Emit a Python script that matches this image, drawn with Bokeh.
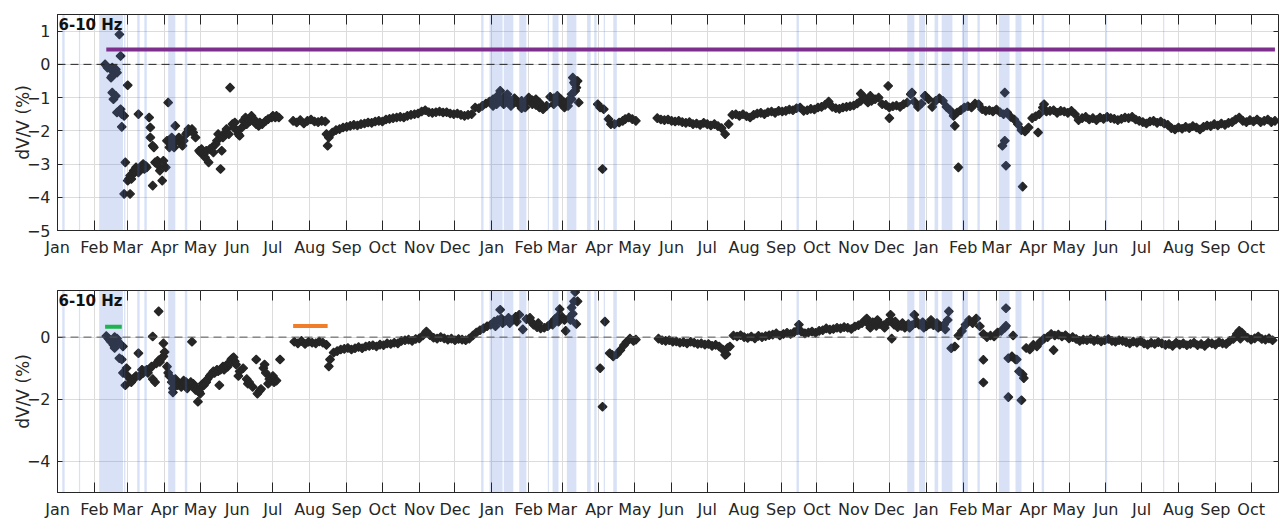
import numpy as np
import pandas as pd
from bokeh.plotting import figure
from bokeh.models import (Range1d, MonthsTicker, DatetimeTickFormatter, DatetimeAxis,
                          LinearAxis, FixedTicker, Span, Label, CustomJSTickFormatter)
from bokeh.layouts import column
from bokeh.embed import file_html
from bokeh.resources import INLINE

# ---------------- data (days counted from START) ----------------
START = "2017-01-01"
END = "2019-10-24"
STEP = 3  # regular sampling step (days) of the band segments

# shaded periods (day offsets)
band_start = [4, 18, 35, 38, 56, 67, 73, 93, 107, 356, 363, 375, 388, 412, 416, 428, 445, 451,
              459, 467, 621, 714, 724, 737, 743, 760, 773, 791, 805, 827, 881, 929]
band_end = [6, 19, 38, 55, 57, 69, 75, 99, 109, 358, 374, 383, 394, 413, 421, 436, 448, 453,
            460, 470, 623, 720, 729, 740, 752, 765, 775, 800, 810, 829, 882, 930]

# ---- top panel ----
top_early_days = [40, 42, 45, 46, 47, 49, 50, 45, 46, 46, 47, 49, 50, 52, 53, 52, 53, 54, 56, 54,
                  59, 57, 56, 61, 59, 60, 61, 63, 64, 66, 67, 68, 68, 70, 71, 72, 74, 75, 77, 78,
                  78, 80, 81, 80, 82, 84, 85, 86, 88, 89, 91, 92, 93, 94, 95, 96, 98, 99, 100, 102,
                  103, 105, 106, 108, 109, 110, 112, 113, 114, 116, 119, 120, 121, 123, 124, 125,
                  127, 128, 130, 131, 133, 134, 135, 137, 138, 139, 141, 142, 144, 145, 147, 148,
                  149, 151, 152, 153, 155, 156, 158, 159, 161, 162, 163, 165, 166, 167, 169, 170,
                  172, 175, 177, 180, 181, 183, 184, 186, 62, 65, 69, 73]
top_early_dv = [0.00, -0.10, -0.15, -0.10, -0.20, -0.15, -0.25, -0.40, -0.35, -0.85, -1.05, -0.95,
                -1.45, -1.40, -1.35, 0.90, 0.25, -1.50, -1.55, -1.88, -0.63, -2.95, -3.90, -3.90,
                -3.50, -3.45, -3.35, -3.30, -3.20, -3.10, -3.15, -1.50, -3.25, -3.10, -3.05, -3.00,
                -3.05, -3.10, -1.60, -1.90, -2.20, -2.45, -2.50, -3.65, -2.95, -2.90, -3.05, -3.20,
                -3.50, -2.90, -3.10, -2.30, -1.15, -2.50, -2.40, -2.20, -2.50, -1.85, -2.30, -2.20,
                -2.35, -2.45, -2.30, -2.10, -2.05, -1.95, -2.00, -1.95, -2.05, -2.20, -2.60, -2.65,
                -2.55, -2.70, -2.80, -2.60, -2.95, -2.55, -2.50, -2.65, -2.40, -2.30, -2.10, -3.15,
                -2.60, -2.20, -2.05, -1.95, -2.10, -0.70, -1.80, -1.90, -1.75, -2.00, -2.10, -2.15,
                -1.90, -1.70, -1.60, -1.80, -1.65, -1.70, -1.55, -1.65, -1.75, -1.80, -1.85, -1.75,
                -1.80, -1.70, -1.65, -1.60, -1.55, -1.60, -1.55, -1.60, -3.45, -3.25, -3.15, -3.15]

top_seg_a_start = 198
top_seg_a = [-1.70, -1.75, -1.68, -1.78, -1.70, -1.66, -1.72, -1.74, -1.70, -1.72,
             -2.20, -2.05, -1.98, -1.95, -1.90, -1.88, -1.85, -1.82, -1.84, -1.80,
             -1.78, -1.75, -1.76, -1.72, -1.70, -1.72, -1.66, -1.64, -1.62, -1.60,
             -1.58, -1.60, -1.55, -1.52, -1.50, -1.48, -1.42, -1.38, -1.44, -1.46,
             -1.44, -1.42, -1.45, -1.44, -1.48, -1.50, -1.48, -1.52, -1.55, -1.52,
             -1.50, -1.30, -1.32, -1.25, -1.18, -1.12, -1.05, -0.98, -0.80, -1.00,
             -1.05, -1.10, -1.02, -1.18, -1.32, -1.15, -1.00, -1.08, -1.22, -1.30,
             -1.28, -1.25, -0.98, -1.02, -1.06, -1.18, -1.30, -1.10, -0.90, -0.60,
             -1.15]

top_seg_b_start = 504
top_seg_b = [-1.62, -1.66, -1.68, -1.66, -1.70, -1.72, -1.70, -1.74, -1.76, -1.74,
             -1.80, -1.78, -1.82, -1.76, -1.80, -1.84, -1.80, -1.86, -1.92, -2.10,
             -1.80, -1.52, -1.50, -1.55, -1.50, -1.56, -1.60, -1.52, -1.48, -1.46,
             -1.50, -1.44, -1.42, -1.46, -1.40, -1.42, -1.40, -1.36, -1.38, -1.32,
             -1.30, -1.40, -1.38, -1.34, -1.36, -1.30, -1.28, -1.22, -1.12, -1.28,
             -1.32, -1.34, -1.30, -1.28, -1.26, -1.24, -1.18, -1.10, -1.00, -1.15,
             -1.10, -1.05, -1.00, -1.20, -1.22, -1.30, -1.26, -1.24, -1.28, -1.20,
             -1.15, -0.90, -1.12, -1.28, -1.18, -0.95, -1.05, -1.28, -1.10, -1.02,
             -1.10, -1.28, -1.38, -1.55, -1.45, -1.38, -1.30, -1.26, -1.30, -1.18,
             -1.20, -1.35, -1.40, -1.38, -1.42, -1.36, -1.44, -1.50, -1.45, -1.58,
             -1.66, -1.80, -1.98, -2.02, -1.90, -1.62, -1.56, -1.50, -1.30, -1.42,
             -1.40, -1.38, -1.46, -1.40, -1.42, -1.46, -1.40, -1.50, -1.68, -1.62,
             -1.58, -1.66, -1.62, -1.68, -1.60, -1.64, -1.58, -1.62, -1.64, -1.68,
             -1.64, -1.60, -1.62, -1.58, -1.66, -1.70, -1.74, -1.78, -1.72, -1.70,
             -1.76, -1.72, -1.78, -1.82, -1.92, -1.96, -1.90, -1.94, -1.88, -1.92,
             -1.86, -1.90, -1.96, -1.88, -1.84, -1.86, -1.80, -1.84, -1.78, -1.82,
             -1.76, -1.74, -1.66, -1.60, -1.70, -1.74, -1.68, -1.72, -1.66, -1.74,
             -1.70, -1.66, -1.74, -1.70]

top_other_days = [454, 456, 458, 459, 463, 465, 468, 472, 475, 477, 480, 483, 486,
                  227, 226, 433, 434, 698, 699, 754, 757, 794, 796, 796, 797, 811, 824, 829,
                  675, 683, 718, 729, 366, 369, 372, 375, 378, 381, 384, 390, 393, 399, 402,
                  405, 408, 417, 420, 423, 426, 429, 432, 435, 436, 437]
top_other_dv = [-1.20, -1.30, -3.15, -1.35, -1.65, -1.80, -1.80, -1.75, -1.70, -1.65, -1.60, -1.65, -1.70,
                -2.45, -2.10, -0.40, -0.55, -0.65, -1.62, -1.85, -3.10, -2.45, -2.30, -0.85, -3.05,
                -3.68, -2.05, -1.20, -0.88, -0.95, -0.85, -0.95, -1.25, -1.20, -1.05, -1.20, -0.90,
                -1.25, -1.15, -1.10, -1.30, -1.20, -1.05, -1.15, -1.35, -1.20, -0.95, -1.05, -1.15,
                -1.25, -1.05, -0.80, -0.70, -0.50]

top_ref_level = 0.45
top_ref_days = [41, 1023]

# ---- bottom panel ----
bot_early_days = [41, 43, 44, 45, 47, 48, 48, 50, 51, 52, 54, 55, 55, 57, 58, 59, 61, 62, 64, 65,
                  66, 68, 69, 71, 72, 73, 75, 76, 78, 79, 80, 80, 82, 83, 85, 85, 86, 87, 89, 89,
                  90, 92, 93, 94, 96, 97, 97, 99, 100, 103, 106, 108, 111, 113, 114, 115, 117, 118,
                  120, 121, 122, 125, 128, 131, 134, 136, 138, 140, 143, 146, 147, 149, 150, 152,
                  153, 156, 159, 160, 161, 164, 167, 168, 170, 171, 173, 174, 175, 177, 178, 181,
                  182, 184, 187, 101, 104, 107, 109, 112, 116, 119, 123, 126, 129, 132, 135, 137,
                  139, 142, 144, 148]
bot_early_dv = [0.03, -0.05, -0.10, -0.15, -0.25, -0.35, 0.00, -0.05, -0.15, -0.68, -0.72, -0.30,
                -1.15, -1.55, -1.00, -1.25, -1.35, -1.45, -1.35, -1.30, -1.25, -0.52, -1.25, -1.05,
                -1.15, -1.10, -1.05, -1.15, -1.00, -0.95, 0.02, -1.35, -1.45, -0.85, -0.75, 0.83,
                -0.80, -0.70, -0.62, -0.20, -0.48, -0.95, -1.15, -1.25, -1.45, -1.78, -1.65, -1.35,
                -1.45, -1.50, -1.40, -1.45, -1.55, -0.15, -1.50, -1.60, -1.65, -2.08, -1.82, -1.60,
                -1.50, -1.45, -1.25, -1.10, -1.05, -1.55, -1.00, -1.05, -0.95, -0.72, -0.68, -0.78,
                -0.88, -1.25, -1.10, -1.00, -1.35, -1.50, -1.45, -1.60, -0.72, -1.82, -1.72, -1.67,
                -1.00, -0.88, -1.15, -1.50, -1.35, -1.25, -1.45, -1.40, -0.72, -1.55, -1.60, -1.50,
                -1.65, -1.45, -1.70, -1.75, -1.55, -1.35, -1.20, -1.15, -1.10, -1.05, -0.95, -0.90,
                -0.85, -0.65]

bot_seg_a_start = 199
bot_seg_a = [-0.15, -0.20, -0.12, -0.22, -0.15, -0.18, -0.20, -0.14, -0.18, -0.25,
             -0.72, -0.50, -0.45, -0.40, -0.38, -0.35, -0.40, -0.36, -0.32, -0.36,
             -0.30, -0.28, -0.26, -0.30, -0.24, -0.26, -0.20, -0.22, -0.18, -0.20,
             -0.12, -0.10, -0.08, -0.12, -0.06, -0.04, 0.05, 0.18, 0.06, -0.02,
             -0.05, 0.00, -0.04, -0.08, -0.05, -0.10, -0.06, -0.08, -0.10, -0.05,
             0.05, 0.15, 0.22, 0.28, 0.35, 0.40, 0.50, 0.55, 0.60, 0.52,
             0.62, 0.55, 0.65, 0.72, 0.25, 0.58, 0.62, 0.40, 0.32, 0.28,
             0.30, 0.35, 0.45, 0.58, 0.50, 0.65, 0.20, 0.62, 0.75, 0.42]

bot_seg_b_start = 505
bot_seg_b = [-0.05, -0.10, -0.12, -0.10, -0.15, -0.14, -0.18, -0.16, -0.20, -0.15,
             -0.18, -0.22, -0.20, -0.24, -0.22, -0.28, -0.25, -0.30, -0.40, -0.55,
             -0.30, 0.05, 0.02, 0.06, 0.00, -0.03, 0.02, -0.04, 0.04, 0.00,
             0.03, 0.06, 0.08, 0.12, 0.05, 0.10, 0.14, 0.10, 0.16, 0.22,
             0.18, 0.12, 0.15, 0.18, 0.14, 0.20, 0.22, 0.28, 0.24, 0.26,
             0.30, 0.28, 0.32, 0.30, 0.26, 0.34, 0.38, 0.45, 0.55, 0.40,
             0.48, 0.36, 0.42, 0.38, 0.46, 0.55, 0.40, 0.32, 0.36, 0.30,
             0.42, 0.38, 0.45, 0.40, 0.48, 0.35, 0.42, 0.38, 0.45, 0.35,
             0.40, 0.55, -0.36, -0.30, 0.05, 0.20, 0.40, 0.55, 0.45, 0.60,
             0.35, 0.10, 0.00, 0.05, 0.02, 0.15, 0.20, 0.30, -0.68, -0.62,
             -0.72, -1.10, -1.20, -0.35, -0.40, -0.25, -0.30, -0.15, -0.05, 0.00,
             0.10, 0.05, 0.08, 0.02, 0.06, -0.04, 0.00, -0.06, -0.12, -0.08,
             -0.10, -0.06, -0.12, -0.08, -0.14, -0.10, -0.06, -0.12, -0.15, -0.10,
             -0.12, -0.16, -0.20, -0.14, -0.18, -0.12, -0.20, -0.24, -0.18, -0.22,
             -0.16, -0.20, -0.25, -0.22, -0.28, -0.18, -0.24, -0.20, -0.26, -0.22,
             -0.18, -0.26, -0.22, -0.28, -0.18, -0.20, -0.24, -0.16, -0.20, -0.22,
             -0.12, -0.06, 0.10, -0.05, 0.05, -0.02, -0.08, -0.04, 0.02, -0.06,
             -0.08, -0.04, -0.10]

bot_other_days = [456, 458, 460, 464, 466, 467, 470, 473, 476, 478, 481, 484, 486,
                  228, 372, 422, 432, 434, 435, 437, 561, 563, 623, 680, 700, 701, 720, 749,
                  797, 797, 799, 803, 806, 810, 812, 778, 778, 837, 993, 995,
                  683, 689, 695, 704, 710, 716, 722, 728, 734, 740, 746,
                  368, 374, 380, 386, 398, 404, 416, 420, 426, 431]
bot_other_dv = [-1.00, -2.24, 0.50, -0.52, -0.57, -0.62, -0.55, -0.42, -0.26, -0.16, -0.05, -0.12, -0.08,
                -0.94, 0.88, 0.90, 0.95, 1.15, 1.45, 1.15, -0.57, -0.35, 0.40, 0.60, 0.72, -0.05,
                0.72, 0.83, 0.93, 0.36, -1.93, 0.05, -0.72, -2.03, -1.32, -0.73, -1.46, -0.42,
                0.20, 0.15,
                0.30, 0.55, 0.30, 0.50, 0.45, 0.30, 0.50, 0.30, 0.55, 0.30, 0.25,
                0.35, 0.45, 0.45, 0.50, 0.50, 0.45, 0.40, 0.65, 0.55, 0.55]

bot_green_level = 0.33
bot_green_days = [40, 54]
bot_orange_level = 0.36
bot_orange_days = [198, 227]

top_yticks = [-5, -4, -3, -2, -1, 0, 1]
bot_yticks = [-4, -2, 0]
panel_label = "6-10 Hz"

# ---------------- helpers ----------------
T0 = pd.Timestamp(START)


def to_dates(days):
    return T0 + pd.to_timedelta(np.asarray(days, dtype=float), unit="D")


def seg_dates(start, vals):
    return to_dates(start + STEP * np.arange(len(vals)))


def ms(ts):
    return (pd.Timestamp(ts) - pd.Timestamp("1970-01-01")).total_seconds() * 1000.0


FONT = "DejaVu Sans"
TXT = "#262626"
MARK = "#262626"
BLANK = CustomJSTickFormatter(code="return ''")


def make_panel(height, border_left, border_top, border_bottom, yticks):
    p = figure(width=1279, height=height, x_axis_type="datetime",
               x_range=Range1d(start=ms(START), end=ms(END)), y_range=Range1d(-5, 1.5),
               output_backend="svg", toolbar_location=None,
               min_border_left=border_left, min_border_right=1,
               min_border_top=border_top, min_border_bottom=border_bottom)
    p.outline_line_color = TXT
    p.outline_line_width = 1
    mt = MonthsTicker(months=list(range(12)))
    fmt = DatetimeTickFormatter(months="%b", days="%b", years="%b")
    xa = p.xaxis[0]
    xa.ticker = mt
    xa.formatter = fmt
    xa.major_tick_in = 10
    xa.major_tick_out = 0
    xa.minor_tick_line_color = None
    xa.major_label_standoff = 7
    xa.major_label_text_font = FONT
    xa.major_label_text_font_size = "16px"
    xa.major_label_text_color = TXT
    xa.axis_line_color = TXT
    xa.major_tick_line_color = TXT

    ya = p.yaxis[0]
    ya.ticker = FixedTicker(ticks=yticks)
    ya.major_tick_in = 5
    ya.major_tick_out = 0
    ya.minor_tick_line_color = None
    ya.major_label_standoff = 7
    ya.major_label_text_font = FONT
    ya.major_label_text_font_size = "16px"
    ya.major_label_text_color = TXT
    ya.axis_line_color = TXT
    ya.major_tick_line_color = TXT
    ya.axis_label = "dV/V (%)"
    ya.axis_label_text_font = FONT
    ya.axis_label_text_font_size = "17px"
    ya.axis_label_text_font_style = "normal"
    ya.axis_label_text_color = TXT
    ya.axis_label_standoff = -9

    top_ax = DatetimeAxis(ticker=MonthsTicker(months=list(range(12))), formatter=BLANK,
                          major_label_standoff=0,
                          major_tick_in=10, major_tick_out=0, axis_line_color=None,
                          major_tick_line_color=TXT, minor_tick_line_color=None)
    p.add_layout(top_ax, "above")
    right_ax = LinearAxis(ticker=FixedTicker(ticks=yticks), formatter=BLANK,
                          major_label_standoff=0, major_tick_in=5, major_tick_out=0,
                          axis_line_color=None, major_tick_line_color=TXT,
                          minor_tick_line_color=None)
    p.add_layout(right_ax, "right")

    p.xgrid.ticker = mt
    p.ygrid.ticker = FixedTicker(ticks=yticks)
    p.xgrid.grid_line_color = "#dcdcdc"
    p.ygrid.grid_line_color = "#dcdcdc"
    return p


def add_common(p, scatter_sets):
    for d, v in scatter_sets:
        p.scatter(d, v, marker="square", angle=np.pi / 4, size=6.2,
                  fill_color=MARK, line_color=MARK, line_width=1.2)
    p.quad(left=to_dates(band_start), right=to_dates(band_end), bottom=-5, top=1.5,
           fill_color="#4f78d8", fill_alpha=0.22, line_color=None)


# ---------------- top panel ----------------
p1 = make_panel(270, 55, 14, 40, top_yticks)
add_common(p1, [
    (to_dates(top_early_days), top_early_dv),
    (seg_dates(top_seg_a_start, top_seg_a), top_seg_a),
    (seg_dates(top_seg_b_start, top_seg_b), top_seg_b),
    (to_dates(top_other_days), top_other_dv),
])
p1.add_layout(Span(location=0, dimension="width", line_color="#222222", line_width=1,
                   line_dash="8 5"))
p1.line(to_dates(top_ref_days), [top_ref_level, top_ref_level], line_color="#7e2f8e",
        line_width=4)
p1.add_layout(Label(x=ms(START), y=1.5, text=panel_label, text_font=FONT,
                    text_font_size="15px", text_font_style="bold", text_color="#111111",
                    text_baseline="top", x_offset=1, y_offset=-1))

# ---------------- bottom panel ----------------
p2 = make_panel(251, 57, 20, 26, bot_yticks)
add_common(p2, [
    (to_dates(bot_early_days), bot_early_dv),
    (seg_dates(bot_seg_a_start, bot_seg_a), bot_seg_a),
    (seg_dates(bot_seg_b_start, bot_seg_b), bot_seg_b),
    (to_dates(bot_other_days), bot_other_dv),
])
p2.add_layout(Span(location=0, dimension="width", line_color="#555555", line_width=1,
                   line_dash="8 5"))
p2.line(to_dates(bot_green_days), [bot_green_level, bot_green_level], line_color="#1db34f",
        line_width=4)
p2.line(to_dates(bot_orange_days), [bot_orange_level, bot_orange_level], line_color="#f07d2a",
        line_width=4)
p2.add_layout(Label(x=ms(START), y=1.5, text=panel_label, text_font=FONT,
                    text_font_size="15px", text_font_style="bold", text_color="#111111",
                    text_baseline="top", x_offset=1, y_offset=-1))

layout = column(p1, p2, spacing=0)
open("out.html", "w").write(file_html(layout, INLINE))
